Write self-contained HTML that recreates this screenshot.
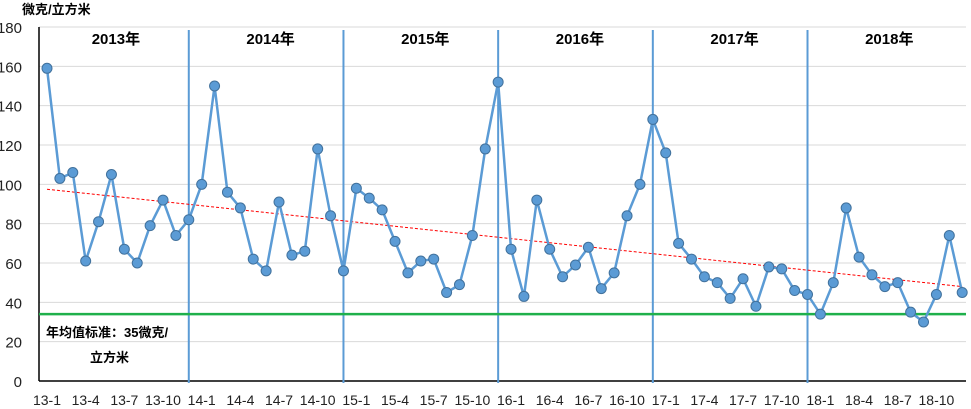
<!DOCTYPE html>
<html><head><meta charset="utf-8"><style>
body{margin:0;background:#fff;}
svg{display:block;font-family:"Liberation Sans","Noto Sans CJK SC",sans-serif;}
</style></head><body>
<svg id="chart" width="971" height="409"></svg>
<script>
const labels=[];
for(let y=13;y<=18;y++)for(let m=1;m<=12;m++)labels.push(y+'-'+m);
const values=[159,103,106,61,81,105,67,60,79,92,74,82,
100,150,96,88,62,56,91,64,66,118,84,56,
98,93,87,71,55,61,62,45,49,74,118,152,
67,43,92,67,53,59,68,47,55,84,100,133,
116,70,62,53,50,42,52,38,58,57,46,44,
34,50,88,63,54,48,50,35,30,44,74,45];
const yTicks=[0,20,40,60,80,100,120,140,160,180];
const years=['2013年','2014年','2015年','2016年','2017年','2018年'];
const standard=34;
const trendStart=97.5, trendEnd=48;
const NS='http://www.w3.org/2000/svg';
const svg=document.getElementById('chart');
const x0=47,dx=12.89;
const X=i=>x0+i*dx;
const Y=v=>381-v*(354/180);
function mk(t,a,parent){const e=document.createElementNS(NS,t);for(const k in a)e.setAttribute(k,a[k]);(parent||svg).appendChild(e);return e;}
yTicks.forEach(v=>{
  if(v>0){const g=mk('line',{x1:39,x2:966,y1:Y(v),y2:Y(v),stroke:'#d9d9d9','stroke-width':1});
  
  }
  const t=mk('text',{x:22,y:Y(v)+6,'text-anchor':'end','font-size':15,fill:'#222'});t.textContent=v;
  
  
});
const ax=mk('line',{x1:39,x2:39,y1:27,y2:381,stroke:'#000','stroke-width':1.5});


const bx=mk('line',{x1:39,x2:966,y1:381,y2:381,stroke:'#000','stroke-width':1.5});


labels.forEach((l,i)=>{if(i%3===0){const t=mk('text',{x:X(i),y:405,'text-anchor':'middle','font-size':14,fill:'#222'});t.textContent=l;

}});
years.forEach((yr,k)=>{
  if(k>0){const l=mk('line',{x1:X(k*12-1),x2:X(k*12-1),y1:30,y2:383,stroke:'#5b9bd5','stroke-width':2});
  
  }
  const t=mk('text',{x:X(k*12+5.5)-2,y:44,'text-anchor':'middle','font-size':15,'font-weight':'bold',fill:'#000'});t.textContent=yr;
  
  
});
const sl=mk('line',{x1:39,x2:966,y1:Y(standard),y2:Y(standard),stroke:'#1fb04b','stroke-width':2.5});


const tl=mk('line',{x1:X(0),x2:X(values.length-1),y1:Y(trendStart),y2:Y(trendEnd),stroke:'#ff0000','stroke-width':1,'stroke-dasharray':'3,2'});


const pl=mk('polyline',{points:values.map((v,i)=>X(i)+','+Y(v)).join(' '),fill:'none',stroke:'#5b9bd5','stroke-width':2.5});


values.forEach((v,i)=>{const c=mk('circle',{cx:X(i),cy:Y(v),r:5,fill:'#5b9bd5',stroke:'#41719c','stroke-width':1});

});
const u=mk('text',{x:22,y:14,'font-size':13,'font-weight':'bold',fill:'#000'});u.textContent='微克/立方米';


const a1=mk('text',{x:46,y:337,'font-size':13,'font-weight':'bold',fill:'#000'});a1.textContent='年均值标准：35微克/';


const a2=mk('text',{x:90,y:362,'font-size':13,'font-weight':'bold',fill:'#000'});a2.textContent='立方米';


</script>
</body></html>
